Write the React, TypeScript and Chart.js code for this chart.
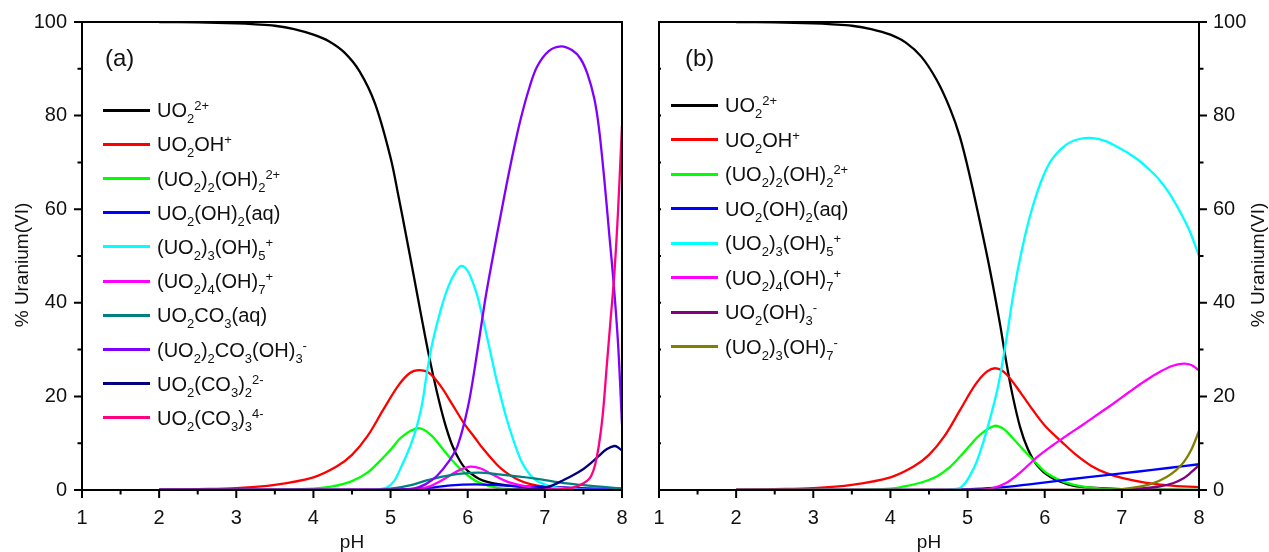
import React, { useEffect, useRef } from "react";
import { Chart, registerables } from "chart.js";

Chart.register(...registerables);

type Pt = [number, number];

// ---------- axes ----------
const PH_TICKS = [1, 2, 3, 4, 5, 6, 7, 8];
const Y_TICKS = [0, 20, 40, 60, 80, 100];
const X_TITLE = "pH";
const Y_TITLE = "% Uranium(VI)";

// ---------- panel (a) ----------
const A_UO2: Pt[] = [[2,100],[2.5,99.9],[3,99.7],[3.25,99.5],[3.5,99.2],[3.75,98.5],[4.0,97.3],[4.2,95.9],[4.4,93.5],[4.6,89.4],[4.8,82.5],[5.0,71],[5.1,63],[5.2,54.5],[5.3,45.8],[5.4,37],[5.5,28.5],[5.6,21],[5.7,14.5],[5.8,9.5],[5.9,6.2],[6.0,4.1],[6.2,2],[6.5,1],[7,0.4],[7.5,0.2],[8,0.1]];
const A_UO2OH: Pt[] = [[2,0.1],[2.5,0.2],[3,0.4],[3.5,1.1],[4,2.7],[4.3,5],[4.5,7.5],[4.7,11.5],[4.9,17],[5.1,22.3],[5.25,25],[5.37,25.6],[5.5,25],[5.65,22.2],[5.8,18.3],[5.95,14.3],[6.1,11],[6.2,8.8],[6.38,5.4],[6.5,3.7],[6.64,2.3],[6.8,1.3],[7,0.7],[7.5,0.3],[8,0.1]];
const A_UO22OH22: Pt[] = [[2,0],[3,0],[3.5,0.05],[4,0.3],[4.23,0.7],[4.5,1.9],[4.7,3.7],[4.85,6],[5.0,8.6],[5.15,11.4],[5.36,13.2],[5.52,11.8],[5.69,8.5],[5.8,6.3],[5.91,4.4],[6.05,2.5],[6.17,1.4],[6.4,0.4],[6.7,0.1],[7,0],[8,0]];
const A_UO2OH2: Pt[] = [[2,0],[4.5,0],[5,0.1],[5.48,0.4],[5.78,1.0],[6.1,1.2],[6.43,1.0],[6.86,0.7],[7.29,0.5],[7.7,0.3],[8,0.3]];
const A_UO23OH5: Pt[] = [[2,0],[4.5,0],[4.8,0.1],[4.95,0.5],[5.05,2],[5.12,4.3],[5.2,7.2],[5.27,10],[5.34,13.6],[5.41,18.5],[5.48,26],[5.55,32],[5.65,38.5],[5.75,43.5],[5.85,46.8],[5.92,47.9],[6.0,46.8],[6.1,42.8],[6.17,38.5],[6.28,30.5],[6.38,23.1],[6.5,15.5],[6.6,10.3],[6.7,6],[6.81,3.2],[6.9,1.9],[7.03,1.0],[7.2,0.4],[7.5,0.1],[8,0]];
const A_UO24OH7: Pt[] = [[2,0],[5.2,0],[5.45,0.5],[5.6,1.5],[5.74,2.8],[5.9,4.3],[6.04,5.0],[6.17,4.6],[6.3,3.5],[6.51,1.8],[6.77,0.7],[7.0,0.2],[7.5,0],[8,0]];
const A_UO2CO3: Pt[] = [[2,0],[4.8,0],[5.0,0.3],[5.25,1.0],[5.48,2.1],[5.78,3.2],[6.13,3.7],[6.43,3.3],[6.86,2.5],[7.29,1.4],[7.72,0.7],[8,0.3]];
const A_UO22CO3OH3: Pt[] = [[2,0],[5.1,0],[5.3,0.3],[5.45,1.2],[5.6,3],[5.75,6],[5.87,9.5],[6.0,17.5],[6.1,27],[6.22,40],[6.3,47.5],[6.47,62.4],[6.6,73],[6.69,79.5],[6.8,86],[6.9,90.5],[7.05,93.8],[7.21,94.8],[7.35,94],[7.46,92.2],[7.55,89],[7.64,83.7],[7.7,77.5],[7.77,66.5],[7.83,55.5],[7.89,44.5],[7.95,31],[8.0,14]];
const A_UO2CO32: Pt[] = [[2,0],[6.3,0],[6.6,0.1],[6.8,0.2],[6.98,0.45],[7.1,1.0],[7.24,2.1],[7.37,3.2],[7.5,4.5],[7.6,5.8],[7.7,7.3],[7.8,8.7],[7.9,9.4],[7.95,9.1],[8.0,8.4]];
const A_UO2CO33: Pt[] = [[2,0],[7.0,0],[7.3,0.3],[7.45,1],[7.55,2],[7.6,3],[7.65,5.3],[7.7,9.5],[7.75,16],[7.8,26],[7.85,36],[7.9,46],[7.95,60],[8.0,78]];

// ---------- panel (b) ----------
const B_UO2: Pt[] = [[2,100],[2.5,99.9],[3,99.7],[3.25,99.5],[3.5,99.2],[3.75,98.5],[4.0,97.3],[4.2,95.6],[4.4,92.6],[4.6,87.6],[4.77,81.6],[4.9,75.5],[5.03,67],[5.16,57.3],[5.29,47],[5.42,35.5],[5.5,27.5],[5.58,20.5],[5.68,13.5],[5.78,8.8],[5.9,5.3],[6.07,2.8],[6.3,1.2],[6.5,0.6],[7,0.2],[8,0]];
const B_UO2OH: Pt[] = [[2,0.1],[2.5,0.2],[3,0.4],[3.5,1.1],[4,2.7],[4.3,5],[4.5,7.5],[4.7,11.5],[4.9,17],[5.1,22.5],[5.25,25.3],[5.37,26],[5.5,24.8],[5.7,20.5],[5.85,17],[6.0,13.8],[6.22,10.3],[6.4,7.6],[6.6,5.2],[6.8,3.6],[7.0,2.6],[7.3,1.6],[7.6,1.0],[8,0.6]];
const B_UO22OH22: Pt[] = [[2,0],[3.5,0.05],[4,0.3],[4.16,0.7],[4.4,1.6],[4.6,2.9],[4.75,4.6],[4.9,7.1],[5.03,9.5],[5.16,11.8],[5.35,13.7],[5.47,13],[5.59,11],[5.7,9],[5.81,7.1],[5.92,5.2],[6.02,3.7],[6.24,1.8],[6.54,0.6],[7,0.1],[8,0]];
const B_UO2OH2: Pt[] = [[2,0],[4.6,0],[5.0,0.2],[5.4,0.5],[5.8,1.2],[6.33,2.3],[6.8,3.2],[7.19,3.9],[7.6,4.7],[8,5.5]];
const B_UO23OH5: Pt[] = [[2,0],[4.6,0],[4.9,0.4],[5.07,4.3],[5.16,8],[5.25,12.8],[5.38,21],[5.45,27],[5.52,34],[5.6,42.5],[5.7,51],[5.8,58],[5.9,63.5],[6.0,67.8],[6.1,70.8],[6.28,73.8],[6.45,75],[6.63,75.2],[6.8,74.5],[6.93,73.4],[7.1,71.8],[7.23,70.3],[7.36,68.4],[7.49,66.2],[7.62,63.3],[7.75,59.6],[7.88,55.3],[8,50]];
const B_UO24OH7: Pt[] = [[2,0],[5.1,0],[5.3,0.3],[5.5,1.5],[5.7,4],[5.9,7],[6.1,9.5],[6.3,11.8],[6.5,14],[6.7,16.3],[6.9,18.6],[7.1,21],[7.3,23.3],[7.5,25.3],[7.65,26.5],[7.8,27],[7.9,26.7],[8.0,25.6]];
const B_UO2OH3: Pt[] = [[2,0],[6.8,0],[7.0,0.1],[7.3,0.4],[7.5,0.8],[7.67,1.5],[7.8,2.5],[7.9,3.8],[8,5.3]];
const B_UO23OH7: Pt[] = [[2,0],[6.8,0],[7.0,0.2],[7.23,0.7],[7.4,1.4],[7.58,2.8],[7.7,4.2],[7.8,5.9],[7.9,8.6],[8,12.6]];

// ---------- labels (formula markup: _x subscript, ^{..} superscript) ----------
const LABELS_A = [
  "UO_2^{2+}",
  "UO_2OH^+",
  "(UO_2)_2(OH)_2^{2+}",
  "UO_2(OH)_2(aq)",
  "(UO_2)_3(OH)_5^+",
  "(UO_2)_4(OH)_7^+",
  "UO_2CO_3(aq)",
  "(UO_2)_2CO_3(OH)_3^-",
  "UO_2(CO_3)_2^{2-}",
  "UO_2(CO_3)_3^{4-}",
];
const LABELS_B = [
  "UO_2^{2+}",
  "UO_2OH^+",
  "(UO_2)_2(OH)_2^{2+}",
  "UO_2(OH)_2(aq)",
  "(UO_2)_3(OH)_5^+",
  "(UO_2)_4(OH)_7^+",
  "UO_2(OH)_3^-",
  "(UO_2)_3(OH)_7^-",
];

const SERIES_A = [A_UO2, A_UO2OH, A_UO22OH22, A_UO2OH2, A_UO23OH5, A_UO24OH7, A_UO2CO3, A_UO22CO3OH3, A_UO2CO32, A_UO2CO33];
const SERIES_B = [B_UO2, B_UO2OH, B_UO22OH22, B_UO2OH2, B_UO23OH5, B_UO24OH7, B_UO2OH3, B_UO23OH7];

const COLORS_A = ["#000000", "#ff0000", "#00ff00", "#0000ff", "#00ffff", "#ff00ff", "#008080", "#8000ff", "#000080", "#ff0080"];
const COLORS_B = ["#000000", "#ff0000", "#00ff00", "#0000ff", "#00ffff", "#ff00ff", "#800080", "#808000"];

const FONT = "'Liberation Sans', Arial, Helvetica, sans-serif";
const INK = "#111";

function parseFormula(s: string) {
  const out: { t: string; k: "n" | "sub" | "sup" }[] = [];
  let i = 0;
  while (i < s.length) {
    const c = s[i];
    if (c === "_" || c === "^") {
      let t: string;
      if (s[i + 1] === "{") {
        const j = s.indexOf("}", i + 2);
        t = s.slice(i + 2, j);
        i = j + 1;
      } else {
        t = s[i + 1];
        i += 2;
      }
      out.push({ t, k: c === "_" ? "sub" : "sup" });
    } else {
      let j = i;
      while (j < s.length && s[j] !== "_" && s[j] !== "^") j++;
      out.push({ t: s.slice(i, j), k: "n" });
      i = j;
    }
  }
  return out;
}

function Formula({ text }: { text: string }) {
  return (
    <>
      {parseFormula(text).map((p, i) =>
        p.k === "n" ? (
          <span key={i}>{p.t}</span>
        ) : (
          <span key={i} style={{ fontSize: 13, position: "relative", top: p.k === "sub" ? 6 : -7 }}>
            {p.t}
          </span>
        )
      )}
    </>
  );
}

function framePlugin(side: "left" | "right") {
  return {
    id: "frame" + side,
    afterDatasetsDraw(chart: any) {
      const { ctx, chartArea } = chart;
      const { left, right, top, bottom } = chartArea;
      const x = chart.scales.x;
      const y = chart.scales.y;
      ctx.save();
      ctx.strokeStyle = "#000";
      ctx.lineWidth = 2;
      ctx.strokeRect(left, top, right - left, bottom - top);
      ctx.beginPath();
      for (let v = PH_TICKS[0]; v <= PH_TICKS[PH_TICKS.length - 1] + 1e-6; v += 0.5) {
        const px = x.getPixelForValue(v);
        const len = Math.abs(v - Math.round(v)) < 1e-6 ? 8 : 4.5;
        ctx.moveTo(px, bottom);
        ctx.lineTo(px, bottom + len);
      }
      for (let v = 0; v <= 100; v += 10) {
        const py = y.getPixelForValue(v);
        const len = v % 20 === 0 ? 8 : 4.5;
        if (side === "left") {
          ctx.moveTo(left, py);
          ctx.lineTo(left - len, py);
        } else {
          ctx.moveTo(right, py);
          ctx.lineTo(right + len, py);
          if (v > 0 && v < 100) {
            ctx.moveTo(left, py);
            ctx.lineTo(left + 2, py);
          }
        }
      }
      ctx.stroke();
      ctx.restore();
    },
  };
}

function makeChart(canvas: HTMLCanvasElement, series: Pt[][], colors: string[], labels: string[], side: "left" | "right") {
  const isLeft = side === "left";
  const n = series.length;
  return new Chart(canvas, {
    type: "line",
    data: {
      datasets: series.map((pts, i) => ({
        label: labels[i],
        data: pts.map(([px, py]) => ({ x: px, y: py })),
        borderColor: colors[i],
        backgroundColor: colors[i],
        borderWidth: 2.3,
        pointRadius: 0,
        fill: false,
        tension: 0.35,
        order: n - i,
      })),
    },
    options: {
      responsive: false,
      animation: false,
      events: [],
      layout: {
        padding: isLeft ? { left: 0, right: 18, top: 22, bottom: 0 } : { left: 19, right: 0, top: 22, bottom: 0 },
      },
      plugins: { legend: { display: false }, tooltip: { enabled: false } },
      scales: {
        x: {
          type: "linear",
          min: PH_TICKS[0],
          max: PH_TICKS[PH_TICKS.length - 1],
          afterBuildTicks: (s: any) => {
            s.ticks = PH_TICKS.map((v) => ({ value: v }));
          },
          afterFit: (s: any) => {
            s.height = 62;
          },
          grid: { display: false, drawTicks: true, tickLength: 8 },
          border: { display: false },
          ticks: { font: { family: FONT, size: 20 }, color: INK, padding: 8, maxRotation: 0, autoSkip: false },
          title: { display: true, text: X_TITLE, font: { family: FONT, size: 19 }, color: INK, padding: { top: 0, bottom: -2 } },
        },
        y: {
          type: "linear",
          position: side,
          min: 0,
          max: 100,
          afterBuildTicks: (s: any) => {
            s.ticks = Y_TICKS.map((v) => ({ value: v }));
          },
          afterFit: (s: any) => {
            s.width = isLeft ? 82 : 70;
          },
          grid: { display: false, drawTicks: true, tickLength: 8 },
          border: { display: false },
          ticks: { font: { family: FONT, size: 20 }, color: INK, padding: isLeft ? 7 : 6 },
          title: { display: false },
        },
      },
    } as any,
    plugins: [framePlugin(side)],
  });
}

function Legend({ labels, colors, x, y0, dy }: { labels: string[]; colors: string[]; x: number; y0: number; dy: number }) {
  return (
    <>
      {labels.map((lab, i) => {
        const cy = y0 + i * dy;
        return (
          <React.Fragment key={i}>
            <div style={{ position: "absolute", left: x, top: cy - 1.5, width: 47, height: 3, background: colors[i] }} />
            <div
              style={{
                position: "absolute",
                left: x + 54,
                top: cy - 9.8,
                fontFamily: FONT,
                fontSize: 20,
                lineHeight: "20px",
                color: INK,
                whiteSpace: "nowrap",
              }}
            >
              <Formula text={lab} />
            </div>
          </React.Fragment>
        );
      })}
    </>
  );
}

function YTitle({ cx, cy }: { cx: number; cy: number }) {
  return (
    <div
      style={{
        position: "absolute",
        left: cx - 100,
        top: cy - 12,
        width: 200,
        height: 24,
        lineHeight: "24px",
        textAlign: "center",
        fontFamily: FONT,
        fontSize: 19,
        color: INK,
        transform: "rotate(-90deg)",
        whiteSpace: "nowrap",
      }}
    >
      {Y_TITLE}
    </div>
  );
}

export default function App() {
  const leftRef = useRef<HTMLCanvasElement>(null);
  const rightRef = useRef<HTMLCanvasElement>(null);

  useEffect(() => {
    const a = makeChart(leftRef.current!, SERIES_A, COLORS_A, LABELS_A, "left");
    const b = makeChart(rightRef.current!, SERIES_B, COLORS_B, LABELS_B, "right");
    return () => {
      a.destroy();
      b.destroy();
    };
  }, []);

  return (
    <div style={{ position: "absolute", left: 0, top: 0, width: 1269, height: 552, background: "#fff", overflow: "hidden" }}>
      <canvas ref={leftRef} width={640} height={552} style={{ position: "absolute", left: 0, top: 0, width: 640, height: 552 }} />
      <canvas ref={rightRef} width={629} height={552} style={{ position: "absolute", left: 640, top: 0, width: 629, height: 552 }} />
      <div style={{ position: "absolute", left: 105, top: 46, fontFamily: FONT, fontSize: 24, lineHeight: "24px", color: INK }}>(a)</div>
      <div style={{ position: "absolute", left: 685, top: 46, fontFamily: FONT, fontSize: 24, lineHeight: "24px", color: INK }}>(b)</div>
      <Legend labels={LABELS_A} colors={COLORS_A} x={103} y0={110} dy={34.2} />
      <Legend labels={LABELS_B} colors={COLORS_B} x={671} y0={105} dy={34.5} />
      <YTitle cx={22} cy={265} />
      <YTitle cx={1258} cy={265} />
    </div>
  );
}
